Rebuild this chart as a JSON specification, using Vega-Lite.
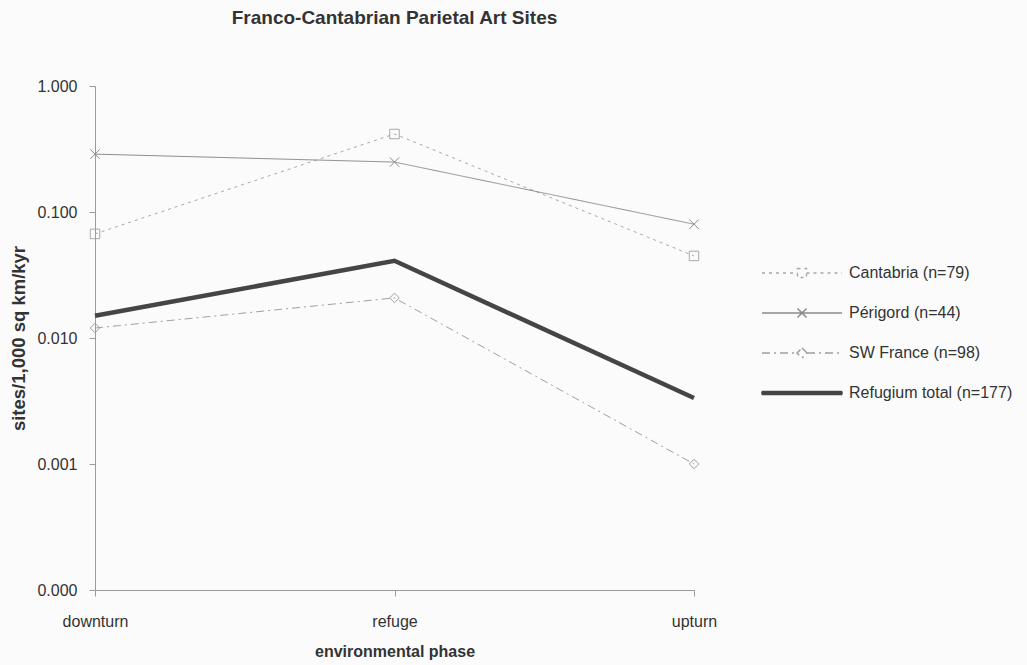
{
  "$schema": "https://vega.github.io/schema/vega-lite/v6.json",
  "autosize": {"type": "none"},
  "width": 599,
  "height": 504,
  "padding": {"left": 95, "top": 86, "right": 333, "bottom": 75},
  "background": "#fbfbfb",
  "title": {
    "text": "Franco-Cantabrian Parietal Art Sites",
    "font": "Liberation Sans",
    "fontSize": 19,
    "fontWeight": "bold",
    "color": "#333333",
    "anchor": "middle",
    "offset": 50
  },
  "config": {
    "view": {"stroke": null},
    "axis": {
      "labelFont": "Liberation Sans",
      "labelFontSize": 16,
      "labelColor": "#333333",
      "titleFont": "Liberation Sans",
      "titleFontWeight": "bold",
      "titleColor": "#333333",
      "domainColor": "#9a9a9a",
      "tickColor": "#9a9a9a",
      "grid": false
    }
  },
  "data": {
    "values": [
      {"series": "Cantabria (n=79)", "phase": "downturn", "value": 0.067},
      {"series": "Cantabria (n=79)", "phase": "refuge", "value": 0.416},
      {"series": "Cantabria (n=79)", "phase": "upturn", "value": 0.0448},
      {"series": "Périgord (n=44)", "phase": "downturn", "value": 0.288},
      {"series": "Périgord (n=44)", "phase": "refuge", "value": 0.249},
      {"series": "Périgord (n=44)", "phase": "upturn", "value": 0.080},
      {"series": "SW France (n=98)", "phase": "downturn", "value": 0.012},
      {"series": "SW France (n=98)", "phase": "refuge", "value": 0.0208},
      {"series": "SW France (n=98)", "phase": "upturn", "value": 0.001},
      {"series": "Refugium total (n=177)", "phase": "downturn", "value": 0.015},
      {"series": "Refugium total (n=177)", "phase": "refuge", "value": 0.041},
      {"series": "Refugium total (n=177)", "phase": "upturn", "value": 0.00334}
    ]
  },
  "encoding": {
    "x": {
      "field": "phase",
      "type": "ordinal",
      "sort": ["downturn", "refuge", "upturn"],
      "scale": {"type": "point", "padding": 0},
      "axis": {
        "title": "environmental phase",
        "titleFontSize": 16,
        "labelAngle": 0,
        "tickSize": 6,
        "labelPadding": 17,
        "titlePadding": 14
      }
    },
    "y": {
      "field": "value",
      "type": "quantitative",
      "scale": {"type": "log", "domain": [0.0001, 1], "nice": false},
      "axis": {
        "title": "sites/1,000 sq km/kyr",
        "titleFontSize": 18.5,
        "values": [0.0001, 0.001, 0.01, 0.1, 1],
        "format": ".3f",
        "tickSize": 6,
        "labelPadding": 12,
        "titlePadding": 8
      }
    },
    "color": {
      "field": "series",
      "type": "nominal",
      "sort": ["Cantabria (n=79)", "Périgord (n=44)", "SW France (n=98)", "Refugium total (n=177)"],
      "scale": {
        "domain": ["Cantabria (n=79)", "Périgord (n=44)", "SW France (n=98)", "Refugium total (n=177)"],
        "range": ["#a8a8a8", "#8c8c8c", "#a0a0a0", "#454545"]
      },
      "legend": {
        "title": null,
        "orient": "none",
        "legendX": 699,
        "legendY": 179,
        "padding": 0,
        "symbolSize": 100,
        "labelOffset": 39,
        "rowPadding": 24,
        "labelFont": "Liberation Sans",
        "labelFontSize": 16,
        "labelColor": "#333333",
        "labelLimit": 300,
        "encode": {
          "symbols": {
            "update": {
              "shape": {"signal": "datum.value === 'Cantabria (n=79)' ? 'M-8,0H-0.9M0.9,0H8M-0.9,-0.9H0.9V0.9H-0.9Z' : datum.value === 'Périgord (n=44)' ? 'M-8,0H8M-0.9,-0.9L0.9,0.9M0.9,-0.9L-0.9,0.9' : datum.value === 'SW France (n=98)' ? 'M-8,0H-1M1,0H8M0,-1L1,0L0,1L-1,0Z' : 'M-8,-0.3H8V0.3H-8Z'"},
              "strokeDash": {"signal": "datum.value === 'Cantabria (n=79)' ? [3,4] : datum.value === 'SW France (n=98)' ? [8,4,2,4] : [1,0]"},
              "stroke": {"signal": "scale('color', datum.value)"},
              "fill": {"signal": "datum.value === 'Refugium total (n=177)' ? scale('color', datum.value) : 'transparent'"},
              "opacity": {"value": 1}
            }
          }
        }
      }
    }
  },
  "layer": [
    {
      "transform": [{"filter": "datum.series !== 'Refugium total (n=177)'"}],
      "mark": {"type": "line", "strokeWidth": 1},
      "encoding": {
        "strokeDash": {
          "field": "series",
          "type": "nominal",
          "scale": {
            "domain": ["Cantabria (n=79)", "Périgord (n=44)", "SW France (n=98)"],
            "range": [[3, 4], [1, 0], [8, 4, 2, 4]]
          },
          "legend": null
        }
      }
    },
    {
      "transform": [{"filter": "datum.series === 'Refugium total (n=177)'"}],
      "mark": {"type": "line", "strokeWidth": 4.5},
      "encoding": {}
    },
    {
      "transform": [{"filter": "datum.series !== 'Refugium total (n=177)'"}],
      "mark": {"type": "point", "filled": false, "size": 90, "strokeWidth": 1, "opacity": 1},
      "encoding": {
        "shape": {
          "field": "series",
          "type": "nominal",
          "scale": {
            "domain": ["Cantabria (n=79)", "Périgord (n=44)", "SW France (n=98)"],
            "range": ["square", "M-1,-1L1,1M1,-1L-1,1", "diamond"]
          },
          "legend": null
        }
      }
    }
  ]
}
